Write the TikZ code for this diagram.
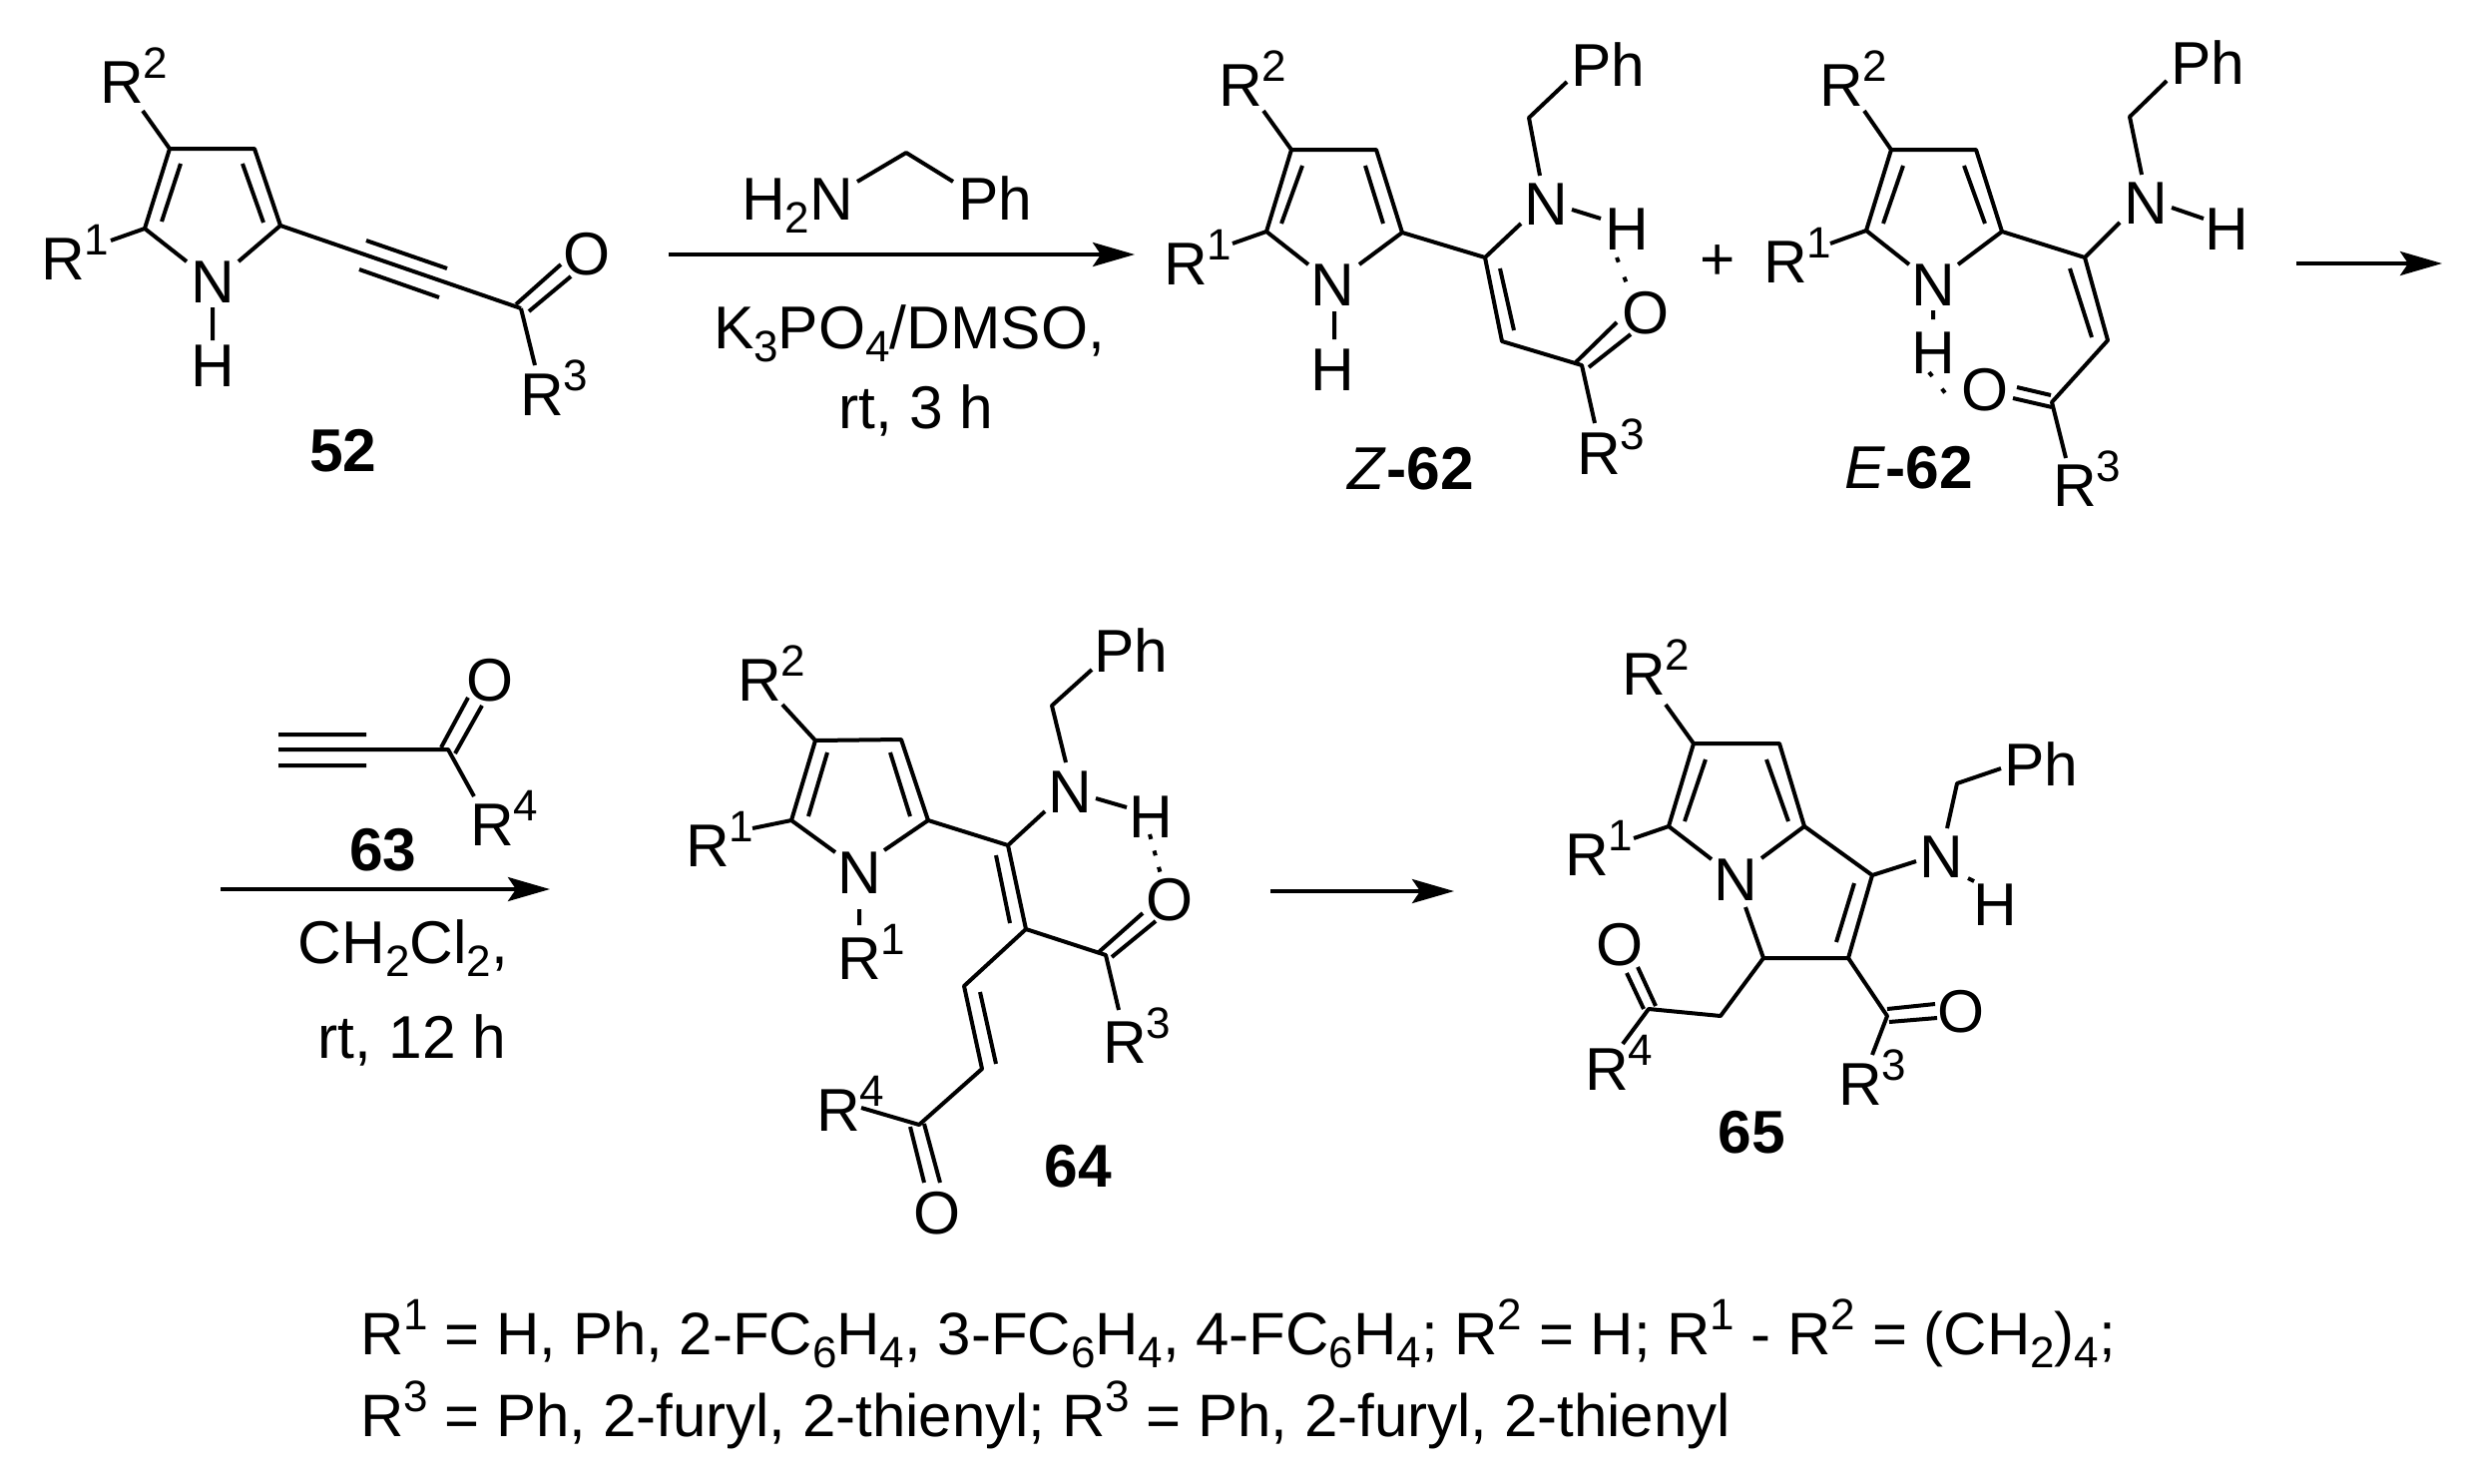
\documentclass[tikz,border=0pt]{standalone}
\usepackage{fontspec}
\setmainfont{Liberation Sans}
\usetikzlibrary{arrows.meta}
\newcommand\chsup[1]{\raisebox{25pt}{\fontsize{44}{44}\selectfont #1}}
\newcommand\chsub[1]{\raisebox{-13pt}{\fontsize{44}{44}\selectfont #1}}
\newcommand\Rg[1]{R\rlap{\chsup{#1}}}
\newcommand\atom[4]{\node[lab] (#1) at (#2,#3) {#4};}
\newcommand\pts[1]{\foreach \n/\x/\y in {#1} {\coordinate (\n) at (\x,\y);}}
\tikzset{
  lab/.style={inner sep=0pt,anchor=base,yshift=-21pt,font=\fontsize{60.5}{66}\selectfont},
  legend/.style={inner sep=0pt,anchor=base west,yshift=-21pt,font=\fontsize{60}{66}\selectfont},
  bond/.style={line width=4pt,line join=round},
  hbond/.style={line width=4pt,dash pattern=on 5pt off 16pt},
  rxn/.style={line width=4pt,-{Stealth[length=42pt,width=24pt,inset=8pt]}},
}
\begin{document}
\begin{tikzpicture}[x=1pt,y=-1pt]
\path[fill=white,use as bounding box] (0,0) rectangle (2482,1486);

% ---------- 52 ----------
\pts{a1/170/149,a2/255/149,a3/281/226,a4/145/229,a1i/181/164,a4i/162/222,a2i/243/164,a3i/264/223,
 aNl/187/262,aNr/239/262,aH1/213/308,aH2/213/341,aR2/143/111,aR1/111/241,aC/522/309,
 at1/367/241,at2/448/269,at3/360/270,at4/440/298,aO1/517/305,aO2/562/265,aO3/530/312,aO4/572/277,aR3/536/366}
\draw[bond] (a4)--(a1)--(a2)--(a3);
\draw[bond] (a1i)--(a4i) (a2i)--(a3i);
\draw[bond] (a4)--(aNl) (a3)--(aNr) (aH1)--(aH2) (aR2)--(a1) (aR1)--(a4) (a3)--(aC);
\draw[bond] (at1)--(at2) (at3)--(at4) (aO1)--(aO2) (aO3)--(aO4) (aC)--(aR3);
\atom{aN}{213}{282}{N}
\atom{aH}{213}{366}{H}
\atom{aRb}{63}{259}{\Rg{1}}
\atom{aRa}{122}{82}{\Rg{2}}
\atom{aRc}{543}{395}{\Rg{3}}
\atom{aO}{588}{254}{O}
\atom{lab52}{344}{451}{\bfseries 52}

% ---------- reagents 1 ----------
\pts{r1s/670/255,r1e/1137/255,rb1/859/182,rb2/908/153,rb3/955/182}
\draw[rxn] (r1s)--(r1e);
\draw[bond] (rb1)--(rb2)--(rb3);
\atom{rH2N}{799}{199}{H\chsub{2}N}
\atom{rPh}{997}{199}{Ph}
\atom{rK}{911}{328}{K\chsub{3}PO\chsub{4}/DMSO,}
\atom{rrt}{918}{408}{rt, 3 h}

% ---------- Z-62 ----------
\pts{z1/1294/150,z2/1379/150,z3/1405/233,z4/1269/232,z1i/1305/166,z4i/1284/224,z2i/1368/166,z3i/1386/224,
 zNl/1311/265,zNr/1362/265,zH1/1337/312,zH2/1337/340,zR2/1266/111,zR1/1235/244,ze/1488/258,zf/1505/342,
 zei/1503/269,zfi/1517/331,zNa/1524/224,zNb/1543/176,zCH/1532/118,zPh/1570/82,zNH1/1575/210,zNH2/1604/219,
 zd1/1620/258,zd2/1631/287,zg/1585/366,zO1/1579/363,zO2/1620/323,zO3/1592/368,zO4/1634/335,zR3/1598/424}
\draw[bond] (z4)--(z1)--(z2)--(z3);
\draw[bond] (z1i)--(z4i) (z2i)--(z3i);
\draw[bond] (z4)--(zNl) (z3)--(zNr) (zH1)--(zH2) (zR2)--(z1) (zR1)--(z4);
\draw[bond] (z3)--(ze)--(zf)--(zg)--(zR3) (zei)--(zfi) (ze)--(zNa) (zNb)--(zCH)--(zPh) (zNH1)--(zNH2);
\draw[bond] (zO1)--(zO2) (zO3)--(zO4);
\draw[hbond] (zd1)--(zd2);
\atom{zN}{1335}{285}{N}
\atom{zH}{1335}{370}{H}
\atom{zRb}{1188}{264}{\Rg{1}}
\atom{zRa}{1243}{85}{\Rg{2}}
\atom{zRc}{1602}{454}{\Rg{3}}
\atom{zNN}{1549}{204}{N}
\atom{zHH}{1630}{229}{H}
\atom{zPht}{1611}{65}{Ph}
\atom{zO}{1649}{313}{O}
\atom{labZ}{1414}{469}{\textit{Z}\bfseries -62}

\atom{plus}{1721}{259}{+}

% ---------- E-62 ----------
\pts{e1/1895/150,e2/1980/150,e3/2006/232,e4/1870/231,e1i/1907/166,e4i/1887/224,e2i/1968/166,e3i/1989/224,
 eNl/1913/265,eNr/1962/265,eH1/1937/311,eH2/1937/320,eR2/1868/111,eR1/1834/244,ee/2089/258,ef/2112/341,
 eei/2074/269,efi/2096/338,eNa/2124/223,eNb/2146/175,eCH/2134/117,ePh/2171/81,eNH1/2176/208,eNH2/2208/219,
 ed1/1933/373,ed2/1950/395,eg/2056/403,eO1/2017/399,eO2/2056/408,eO3/2021/388,eO4/2055/396,eR3/2070/459}
\draw[bond] (e4)--(e1)--(e2)--(e3);
\draw[bond] (e1i)--(e4i) (e2i)--(e3i);
\draw[bond] (e4)--(eNl) (e3)--(eNr) (eH1)--(eH2) (eR2)--(e1) (eR1)--(e4);
\draw[bond] (e3)--(ee)--(ef)--(eg)--(eR3) (eei)--(efi) (ee)--(eNa) (eNb)--(eCH)--(ePh) (eNH1)--(eNH2);
\draw[bond] (eO1)--(eO2) (eO3)--(eO4);
\draw[hbond] (ed1)--(ed2);
\atom{eN}{1937}{285}{N}
\atom{eH}{1937}{353}{H}
\atom{eRb}{1789}{262}{\Rg{1}}
\atom{eRa}{1845}{85}{\Rg{2}}
\atom{eRc}{2079}{486}{\Rg{3}}
\atom{eNN}{2150}{203}{N}
\atom{eHH}{2231}{229}{H}
\atom{ePht}{2212}{63}{Ph}
\atom{eO}{1989}{390}{O}
\atom{labE}{1913}{468}{\textit{E}\bfseries -62}

\pts{r2s/2301/264,r2e/2447/264}
\draw[rxn] (r2s)--(r2e);

% ---------- 63 + reagents 2 ----------
\pts{b1/279/736,b2/367/736,b3/279/751,b4/279/767,b5/367/767,bC/449/751,bO1/469/699,bO2/442/749,bO3/483/707,bO4/456/755,bR4/475/798,r3s/221/891,r3e/551/891}
\draw[bond] (b1)--(b2) (b3)--(bC)--(bR4) (b4)--(b5) (bO1)--(bO2) (bO3)--(bO4);
\draw[rxn] (r3s)--(r3e);
\atom{bO}{491}{681}{O}
\atom{bR}{493}{826}{\Rg{4}}
\atom{lab63}{384}{851}{\bfseries 63}
\atom{rCH}{404}{944}{CH\chsub{2}Cl\chsub{2},}
\atom{rrt2}{413}{1039}{rt, 12 h}

% ---------- 64 ----------
\pts{c1/817/742,c2/903/741,c3/930/822,c4/793/822,c1i/829/754,c4i/810/818,c2i/892/754,c3i/912/818,
 cNl/837/854,cNr/886/852,cH1/861/911,cH2/861/927,cR2/784/706,cR1/754/830,ce/1010/847,ceN/1047/813,
 cNb/1068/764,cCH/1054/707,cPh/1094/671,cNH1/1098/800,cNH2/1129/809,cd1/1152/836,cd2/1163/876,
 cf/1028/931,cei/998/857,cfi/1012/925,cg/1108/957,cO1/1101/954,cO2/1145/915,cO3/1114/959,cO4/1158/923,cR3/1121/1012,
 ch/966/988,ci/984/1071,chi/982/994,cii/998/1066,cj/921/1127,cR4/863/1110,cO5/912/1129,cO6/926/1185,cO7/926/1126,cO8/942/1185}
\draw[bond] (c4)--(c1)--(c2)--(c3);
\draw[bond] (c1i)--(c4i) (c2i)--(c3i);
\draw[bond] (c4)--(cNl) (c3)--(cNr) (cH1)--(cH2) (cR2)--(c1) (cR1)--(c4);
\draw[bond] (c3)--(ce)--(cf)--(cg)--(cR3) (cei)--(cfi) (ce)--(ceN) (cNb)--(cCH)--(cPh) (cNH1)--(cNH2);
\draw[bond] (cO1)--(cO2) (cO3)--(cO4);
\draw[bond] (cf)--(ch)--(ci)--(cj)--(cR4) (chi)--(cii) (cO5)--(cO6) (cO7)--(cO8);
\draw[hbond,dash pattern=on 5pt off 12pt] (cd1)--(cd2);
\atom{cN}{861}{874}{N}
\atom{cRd}{861}{960}{\Rg{1}}
\atom{cRa}{761}{681}{\Rg{2}}
\atom{cRb}{709}{847}{\Rg{1}}
\atom{cNN}{1072}{793}{N}
\atom{cHH}{1153}{818}{H}
\atom{cPht}{1133}{652}{Ph}
\atom{cO}{1172}{901}{O}
\atom{cRc}{1127}{1044}{\Rg{3}}
\atom{cRe}{840}{1112}{\Rg{4}}
\atom{cOb}{939}{1215}{O}
\atom{lab64}{1080}{1168}{\bfseries 64}

\pts{r4s/1273/893,r4e/1457/893}
\draw[rxn] (r4s)--(r4e);

% ---------- 65 ----------
\pts{d1/1697/745,d2/1783/745,d3/1808/828,d4/1672/828,d1i/1709/761,d4i/1688/823,d2i/1770/761,d3i/1792/823,
 dNl/1715/861,dNr/1765/860,dR2/1669/706,dR1/1637/840,de/1876/877,dNa/1920/863,dNb/1951/830,dCH/1961/785,dPh/2005/770,
 dNH1/1972/880,dNH2/1978/883,df/1852/960,dei/1858/885,dfi/1840/944,dg/1767/960,dNg/1749/909,dh/1891/1018,
 dO1/1891/1011,dO2/1939/1006,dO3/1893/1024,dO4/1941/1020,dR3/1876/1057,di/1724/1018,dj/1652/1011,
 dO5/1647/1011,dO6/1630/975,dO7/1659/1008,dO8/1641/969,dR4/1626/1046}
\draw[bond] (d4)--(d1)--(d2)--(d3);
\draw[bond] (d1i)--(d4i) (d2i)--(d3i);
\draw[bond] (d4)--(dNl) (d3)--(dNr) (dR2)--(d1) (dR1)--(d4);
\draw[bond] (d3)--(de)--(df)--(dg)--(dNg) (dei)--(dfi) (de)--(dNa) (dNb)--(dCH)--(dPh) (dNH1)--(dNH2);
\draw[bond] (df)--(dh)--(dR3) (dO1)--(dO2) (dO3)--(dO4);
\draw[bond] (dg)--(di)--(dj)--(dR4) (dO5)--(dO6) (dO7)--(dO8);
\atom{dN}{1739}{881}{N}
\atom{dRa}{1647}{675}{\Rg{2}}
\atom{dRb}{1590}{856}{\Rg{1}}
\atom{dNN}{1945}{858}{N}
\atom{dHH}{1999}{906}{H}
\atom{dPht}{2045}{766}{Ph}
\atom{dO}{1965}{1013}{O}
\atom{dRc}{1864}{1086}{\Rg{3}}
\atom{dOb}{1623}{946}{O}
\atom{dRd}{1610}{1071}{\Rg{4}}
\atom{lab65}{1755}{1134}{\bfseries 65}

% ---------- legend ----------
\node[legend] (leg1) at (361,1336) {R\chsup{1} = H, Ph, 2-FC\chsub{6}H\chsub{4}, 3-FC\chsub{6}H\chsub{4}, 4-FC\chsub{6}H\chsub{4}; R\chsup{2} = H; R\chsup{1} - R\chsup{2} = (CH\chsub{2})\chsub{4};};
\node[legend] (leg2) at (361,1418) {R\chsup{3} = Ph, 2-furyl, 2-thienyl; R\chsup{3} = Ph, 2-furyl, 2-thienyl};
\end{tikzpicture}
\end{document}
